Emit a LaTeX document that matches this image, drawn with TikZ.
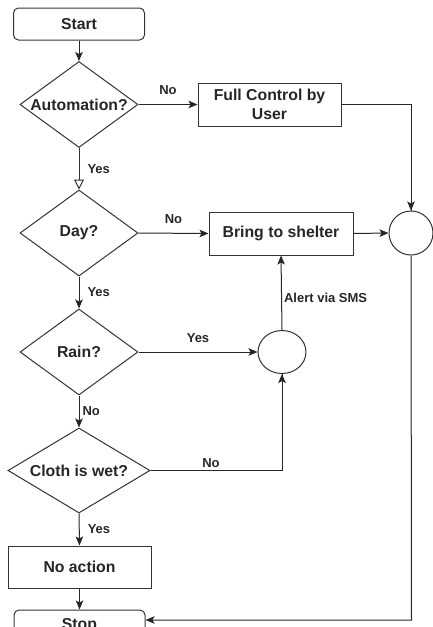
\documentclass[tikz,border=0pt]{standalone}
\usepackage{fontspec}
\setmainfont{Liberation Sans}
\usetikzlibrary{shapes.geometric,arrows.meta}
\begin{document}
\begin{tikzpicture}[x=1pt,y=-1pt,
  line width=1pt,
  every node/.style={font=\fontsize{15.8}{18.5}\selectfont\bfseries, text=black!85},
  proc/.style={draw=black!80, rectangle, inner sep=0pt, align=center},
  term/.style={proc, rounded corners=5pt, minimum width=131pt, minimum height=32pt},
  dec/.style={draw=black!80, diamond, inner sep=0pt, shape aspect=1.4, minimum width=118pt, minimum height=86pt},
  joint/.style={draw=black!80, circle, minimum size=44pt, inner sep=0pt},
  lbl/.style={font=\fontsize{13}{15}\selectfont\bfseries, inner sep=0pt},
  arr/.style={draw=black!85, -{Stealth[length=9pt,width=7.5pt,inset=2pt]}},
  oarr/.style={draw=black!80, -{Triangle[open,length=10pt,width=10pt]}},
  ln/.style={draw=black!85}]
\useasboundingbox (0,0) rectangle (433,627);
\clip (0,0) rectangle (433,627);

\node[term] (start) at (79,24) {Start};
\node[dec] (auto) at (79,104.5) {Automation?};
\node[proc, minimum width=143pt, minimum height=43pt] (full) at (269.5,104.5) {Full Control by\\User};
\node[joint] (cR) at (411,233) {};
\node[dec] (day) at (79,233) {Day?};
\node[proc, minimum width=144pt, minimum height=43pt] (shel) at (281,233.5) {Bring to shelter};
\node[dec] (rain) at (79,352) {Rain?};
\node[joint, minimum width=48pt, minimum height=43pt, ellipse] (cS) at (282,352) {};
\node[dec, minimum width=142pt, minimum height=85pt] (cloth) at (79,470.5) {Cloth is wet?};
\node[proc, minimum width=143pt, minimum height=42pt] (noact) at (79.5,567) {No action};
\node[term] (stop) at (79.5,626) {Stop};
\coordinate (corner) at (411.5,620);

\draw[arr] (start) -- (auto);
\draw[arr] (auto.east) -- (full.west) node[lbl, midway, above=9pt] {No};
\draw[ln] (full.east) -| (cR.north);
\draw[arr] (full.east -| cR.north) -- (cR.north);
\draw[oarr] (auto.south) -- (day.north) node[lbl, midway, right=8pt] {Yes};
\draw[arr] (day.east) -- (shel.west) node[lbl, midway, above=9pt] {No};
\draw[arr] (shel.east) -- (cR.west);
\draw[arr] (day.south) -- (rain.north) node[lbl, midway, right=8pt] {Yes};
\draw[arr] (rain.east) -- (cS.west) node[lbl, midway, above=9pt] {Yes};
\draw[arr] (cS.north) -- (shel.south) node[lbl, pos=0.43, right=2pt] {Alert via SMS};
\draw[arr] (rain.south) -- (cloth.north) node[lbl, midway, right=3pt] {No};
\draw[ln] (cloth.east) -| (cS.south);
\draw[arr] (cloth.east -| cS.south) -- (cS.south);
\node[lbl] at (211,463) {No};
\draw[arr] (cloth.south) -- (noact.north) node[lbl, midway, right=8pt] {Yes};
\draw[arr] (noact.south) -- (stop.north);
\draw[arr] (cR.south) -- (corner) -- (corner -| stop.east);
\end{tikzpicture}
\end{document}
